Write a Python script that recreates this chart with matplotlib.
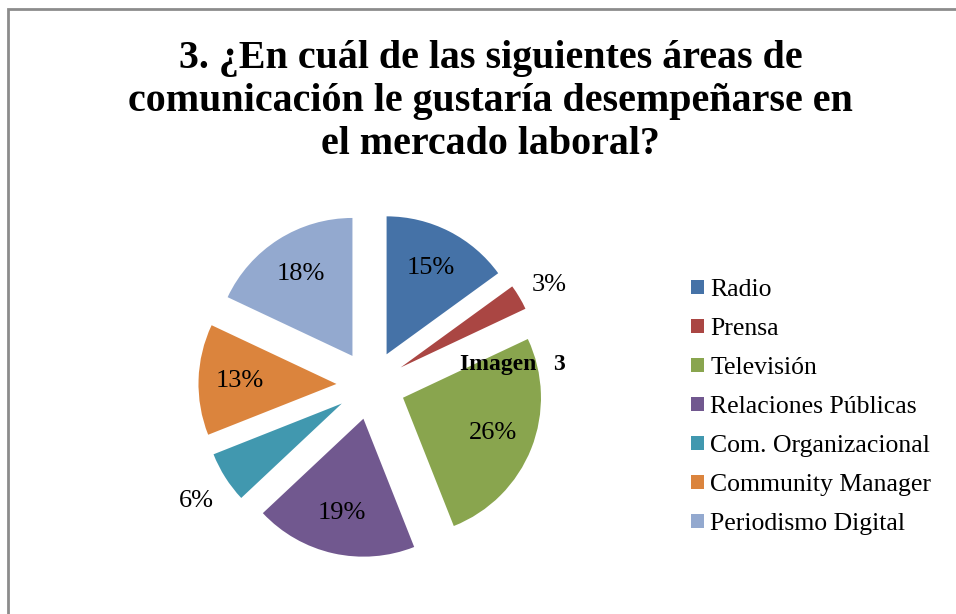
import numpy as np
import matplotlib.pyplot as plt
from matplotlib.patches import Rectangle

# Data
categories = ['Radio', 'Prensa', 'Televisión', 'Relaciones Públicas',
              'Com. Organizacional', 'Community Manager', 'Periodismo Digital']
percent = [15, 3, 26, 19, 6, 13, 18]
colors = ['#4572A7', '#AA4643', '#89A54E', '#71588F', '#4198AF', '#DB843D', '#93A9CF']
title = '3. ¿En cuál de las siguientes áreas de\ncomunicación le gustaría desempeñarse en\nel mercado laboral?'

serif = ['Liberation Serif', 'DejaVu Serif']

fig = plt.figure(figsize=(9.56, 6.14), dpi=100)
ax = fig.add_axes([0.157, 0.0134, 0.462, 0.719])

explode = 0.25
wedges, texts, autotexts = ax.pie(
    percent, colors=colors, startangle=90, counterclock=False,
    explode=[explode] * len(percent), radius=1,
    autopct='%d%%', pctdistance=0.7,
    textprops=dict(family=serif, fontsize=19, color='black'))

# small slices: put the label outside
for w, t, v in zip(wedges, autotexts, percent):
    if v < 10:
        ang = np.deg2rad((w.theta1 + w.theta2) / 2)
        d = explode + 1.25
        t.set_position((d * np.cos(ang), d * np.sin(ang) - 0.04))

ax.set_xlim(-1.6, 1.6)
ax.set_ylim(-1.6, 1.6)
ax.set_aspect('equal')
ax.axis('off')

fig.text(0.513, 0.935, title, ha='center', va='top', fontsize=28.8,
         fontweight='bold', family=serif, linespacing=1.22)

fig.text(0.481, 0.398, 'Imagen   3', fontsize=17, fontweight='bold', family=serif)

fig.legend(wedges, categories, loc='upper left', bbox_to_anchor=(0.712, 0.562),
           frameon=False, prop=dict(family=serif, size=18.5),
           handlelength=0.5, handleheight=0.5, handletextpad=0.25,
           labelspacing=0.66, borderaxespad=0)

# chart border
fig.patches.append(Rectangle((8 / 956, -0.1), 1.2, (614 - 9) / 614 + 0.1,
                             transform=fig.transFigure, fill=False,
                             edgecolor='#8c8c8c', lw=2))

plt.savefig('out.png', dpi=100)
